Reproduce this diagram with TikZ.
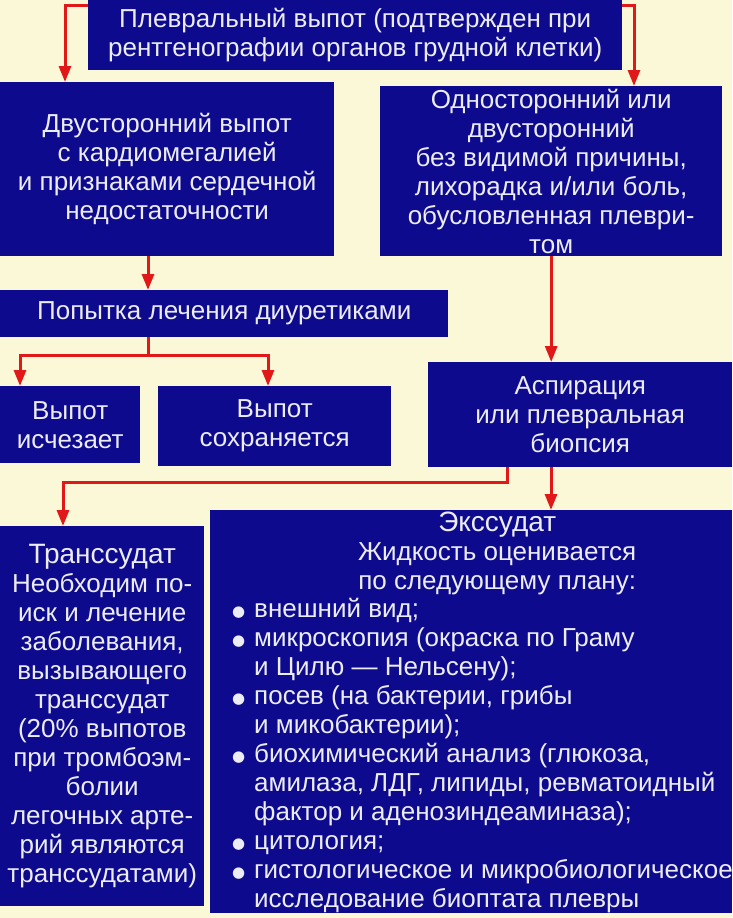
\documentclass[tikz,border=0pt]{standalone}
\usepackage{fontspec}
\setmainfont{Liberation Sans}
\newfontfamily\symfont{DejaVu Sans}
\usepackage{xcolor}
\usepackage{tikz}
\usetikzlibrary{positioning, arrows.meta, calc}
\definecolor{bgcream}{HTML}{FBF8D8}
\definecolor{boxblue}{HTML}{0E0A8E}
\definecolor{arrred}{HTML}{E01818}
\definecolor{txtwhite}{HTML}{ECECF4}
\newcommand{\itm}{\makebox[22pt][l]{\raisebox{1pt}{\symfont\fontsize{15}{15}\selectfont ●}}}
\newcommand{\cnt}{\hspace*{22pt}}

\begin{document}
\begin{tikzpicture}[
    x=1pt, y=-1pt,
    bluebox/.style={fill=boxblue, rectangle, anchor=north west, inner sep=0pt, align=center, text=txtwhite, font=\fontsize{26}{29}\selectfont},
    txt/.style={inner sep=0pt, text=txtwhite, font=\fontsize{26}{29}\selectfont},
    arr/.style={draw=arrred, line width=3pt, -{Triangle[length=16pt, width=12pt]}},
    redline/.style={draw=arrred, line width=3pt}
]
\fill[bgcream] (0,0) rectangle (732,918);
\useasboundingbox (0,0) rectangle (732,918);

% boxes
\node[bluebox, minimum width=534pt, minimum height=70pt] (plev) at (88,0)
    {Плевральный выпот (подтвержден при\\рентгенографии органов грудной клетки)};
\node[bluebox, minimum width=334pt, minimum height=174pt] (dvust) at (0,82)
    {Двусторонний выпот\\с кардиомегалией\\и признаками сердечной\\недостаточности};
\node[bluebox, minimum width=342pt, minimum height=170pt] (odnost) at (380,86)
    {Односторонний или\\двусторонний\\без видимой причины,\\лихорадка и/или боль,\\обусловленная плеври-\\том};
\node[bluebox, minimum width=448pt, minimum height=47pt] (diur) at (0,290)
    {Попытка лечения диуретиками};
\node[bluebox, minimum width=140pt, minimum height=77pt] (ischez) at (0,386)
    {Выпот\\исчезает};
\node[bluebox, minimum width=233pt, minimum height=80pt] (sohr) at (158,386)
    {Выпот\\сохраняется};
\node[bluebox, minimum width=304pt, minimum height=105pt] (aspir) at (428,362)
    {Аспирация\\или плевральная\\биопсия};
\node[bluebox, minimum width=204pt, minimum height=380pt] (transs) at (0,526)
    {{\fontsize{28}{31}\selectfont Транссудат}\\Необходим по-\\иск и лечение\\заболевания,\\вызывающего\\транссудат\\(20\% выпотов\\при тромбоэм-\\болии\\легочных арте-\\рий являются\\транссудатами)};
\node[bluebox, minimum width=522pt, minimum height=403pt] (exss) at (210,510) {};
\node[txt, align=center, anchor=north] (exshead) at ([xshift=26pt, yshift=-2pt]exss.north)
    {{\fontsize{28}{30}\selectfont Экссудат}\\Жидкость оценивается\\по следующему плану:};
\node[txt, align=left, anchor=north west] (exslist) at ([xshift=22pt, yshift=-88pt]exss.north west)
    {\itm внешний вид;\\
     \itm микроскопия (окраска по Граму\\
     \cnt и Цилю — Нельсену);\\
     \itm посев (на бактерии, грибы\\
     \cnt и микобактерии);\\
     \itm биохимический анализ (глюкоза,\\
     \cnt амилаза, ЛДГ, липиды, ревматоидный\\
     \cnt фактор и аденозиндеаминаза);\\
     \itm цитология;\\
     \itm гистологическое и микробиологическое\\
     \cnt исследование биоптата плевры};

% arrows
\draw[arr] ([yshift=-5pt]plev.north west) -| ([xshift=65pt]dvust.north west);
\draw[arr] ([yshift=-5pt]plev.north east) -| ([xshift=254pt]odnost.north west);
\draw[arr] ([xshift=148pt]dvust.south west) -- ([xshift=148pt]diur.north west);
\draw[redline] ([xshift=148pt]diur.south west) -- ++(0,18) coordinate (split);
\draw[arr] (split) -| ([xshift=20pt]ischez.north west);
\draw[arr] (split) -| ([xshift=110pt]sohr.north west);
\draw[arr] (odnost.south) -- (odnost.south |- aspir.north);
\draw[arr] ([xshift=79pt]aspir.south west) -- ++(0,15) -| ([xshift=63pt]transs.north west);
\draw[arr] ([xshift=123pt]aspir.south west) -- ([xshift=123pt]aspir.south west |- exss.north);
\end{tikzpicture}
\end{document}
